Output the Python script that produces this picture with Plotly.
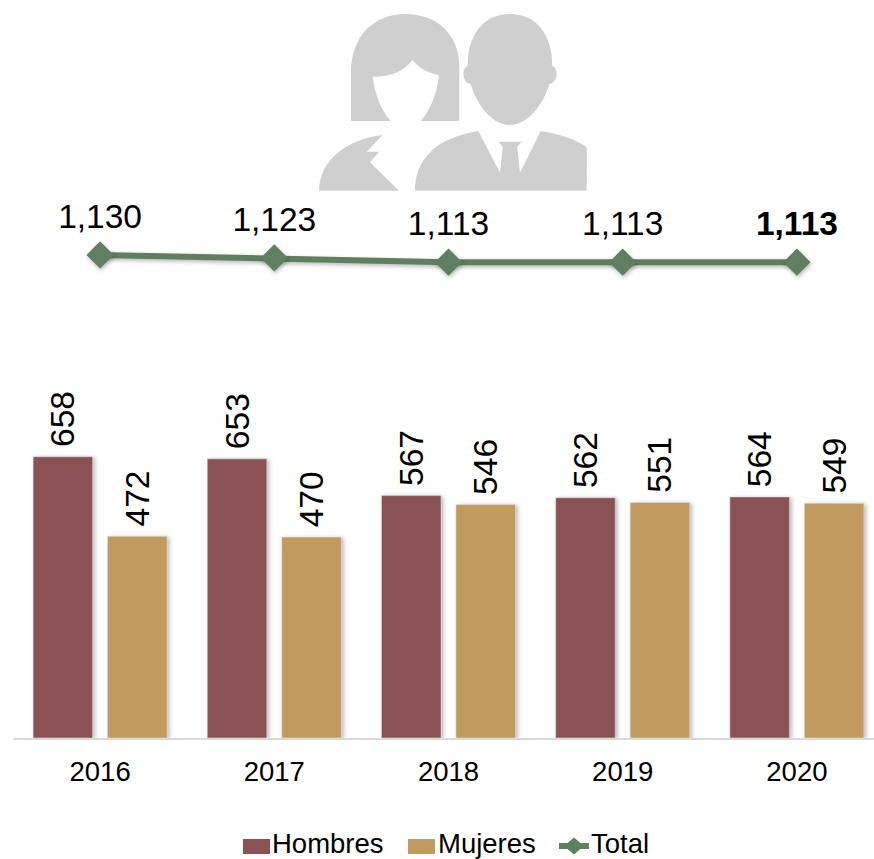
import plotly.graph_objects as go

years = ["2016", "2017", "2018", "2019", "2020"]
hombres = [658, 653, 567, 562, 564]
mujeres = [472, 470, 546, 551, 549]
total = [1130, 1123, 1113, 1113, 1113]
total_labels = ["1,130", "1,123", "1,113", "1,113", "<b>1,113</b>"]
legend_names = ["Hombres", "Mujeres", "Total"]

W, H = 874, 859
L, B = 13, 738
FONT = "Liberation Sans, Arial, sans-serif"
MAROON, TAN, GREEN = "#8A5254", "#C09A5F", "#5F7F60"
LABEL = 33.5

def px(x):
    return (x - L) / (W - L)

def py(y):
    return (B - y) / B

def pt(x, y):
    return f"{px(x):.5f},{py(y):.5f}"

def path(cmds):
    out = []
    for c in cmds:
        out.append(c[0] + " " + " ".join(pt(*p) for p in c[1:]))
    return " ".join(out) + " Z"

woman_hair = [("M", (351, 121)), ("L", (351, 73)), ("C", (351, 35), (375, 14), (405, 14)),
              ("C", (438, 14), (459.3, 35), (459.3, 67)), ("L", (459.3, 121)), ("L", (420.7, 121)),
              ("C", (430, 110), (437, 95), (439, 75)), ("C", (428, 73), (420, 69), (412.7, 60)),
              ("C", (403, 72), (390, 77), (372.7, 76.7)), ("C", (375, 95), (381, 110), (390.7, 121))]
woman_body = [("M", (319, 190.7)), ("C", (320, 160), (345, 140), (382.7, 135)), ("L", (366.7, 151.7)),
              ("L", (379.3, 151.7)), ("L", (370, 162.3)), ("L", (399, 190.7))]
man_head = [("M", (510, 14)), ("C", (483, 14), (467.7, 35), (467.7, 66)),
            ("C", (462, 67), (461, 82), (470.7, 84.3)), ("C", (477, 105), (492, 125), (509.5, 125)),
            ("C", (528, 125), (543, 105), (549.3, 84.3)), ("C", (559, 82), (558, 67), (552.3, 66)),
            ("C", (552.3, 35), (537, 14), (510, 14))]
man_body = [("M", (415, 190.7)), ("C", (415, 160), (435, 138), (478.3, 131)), ("L", (500, 172.7)),
            ("L", (502.7, 146.7)), ("L", (498.3, 141.7)), ("L", (521.7, 141.7)), ("L", (517.3, 146.7)),
            ("L", (520, 172.7)), ("L", (540.7, 131)), ("C", (560, 134), (575, 139), (586.7, 147.3)),
            ("L", (586.7, 190.7)), ("L", (415, 190.7))]

shapes = [dict(type="path", xref="paper", yref="paper", layer="below", path=path(p),
               fillcolor="#CFCFCF", line=dict(width=0))
          for p in (woman_hair, woman_body, man_head, man_body)]

# legend keys
def rect(x0, x1, color):
    return dict(type="rect", xref="paper", yref="paper", x0=px(x0), x1=px(x1), y0=py(854), y1=py(839),
                fillcolor=color, line=dict(width=0))

shapes += [rect(243, 270, MAROON), rect(408, 435, TAN),
           dict(type="line", xref="paper", yref="paper", x0=px(559), x1=px(589), y0=py(846), y1=py(846),
                line=dict(color=GREEN, width=6)),
           dict(type="path", xref="paper", yref="paper",
                path=path([("M", (564, 846)), ("L", (574, 837.5)), ("L", (584, 846)), ("L", (574, 854.5))]),
                fillcolor=GREEN, line=dict(width=0))]

annotations = [dict(text=t, xref="paper", yref="paper", x=px(x), y=py(843.5), xanchor="left", yanchor="middle",
                    showarrow=False, borderpad=0, font=dict(size=27.5, color="#000000", family=FONT))
               for t, x in zip(legend_names, (271, 437, 590))]

fig = go.Figure()
for name, vals, col in (("Hombres", hombres, MAROON), ("Mujeres", mujeres, TAN)):
    fig.add_bar(name=name, x=years, y=vals, marker_color=col, text=[f"\u2009{v}" for v in vals],
                textposition="outside", textangle=-90, cliponaxis=False, showlegend=False,
                constraintext="none",
                textfont=dict(size=LABEL, color="#000000", family=FONT))
fig.add_scatter(name="Total", x=years, y=total, mode="lines+markers",
                line=dict(color=GREEN, width=6), marker=dict(symbol="diamond", size=21, color=GREEN),
                cliponaxis=False, showlegend=False)
fig.add_scatter(name="Total", x=years, y=total, mode="markers+text", text=total_labels,
                textposition="top center", textfont=dict(size=LABEL, color="#000000", family=FONT),
                marker=dict(symbol="diamond", size=28, opacity=0), cliponaxis=False,
                showlegend=False, hoverinfo="skip")

fig.update_layout(
    width=W, height=H, autosize=False, showlegend=False,
    margin=dict(l=L, r=0, t=0, b=H - B, pad=0),
    paper_bgcolor="white", plot_bgcolor="white",
    barmode="group", bargap=0.145, bargroupgap=0.2,
    shapes=shapes, annotations=annotations,
    font=dict(family=FONT, color="#000000"),
    xaxis=dict(type="category", range=[-0.5, (W - L) / 174.2 - 0.5], showgrid=False, ticks="",
               showline=True, linecolor="#D9D9D9", linewidth=1.5,
               tickfont=dict(size=27.5, color="#000000"), ticklabelstandoff=8),
    yaxis=dict(range=[0, B / 0.4275], visible=False, showgrid=False, zeroline=False),
)

page_style = (
    "document.body.style.margin='0';"
    "var s=document.createElement('style');"
    "s.textContent='.bars .point path{filter:drop-shadow(2px 1px 2px rgba(0,0,0,.28))}"
    ".scatterlayer .lines path,.scatterlayer .points path{filter:drop-shadow(1px 2px 2px rgba(0,0,0,.28))}';"
    "document.head.appendChild(s);"
)
fig.write_html("out.html", post_script=page_style, config={"displayModeBar": False})
